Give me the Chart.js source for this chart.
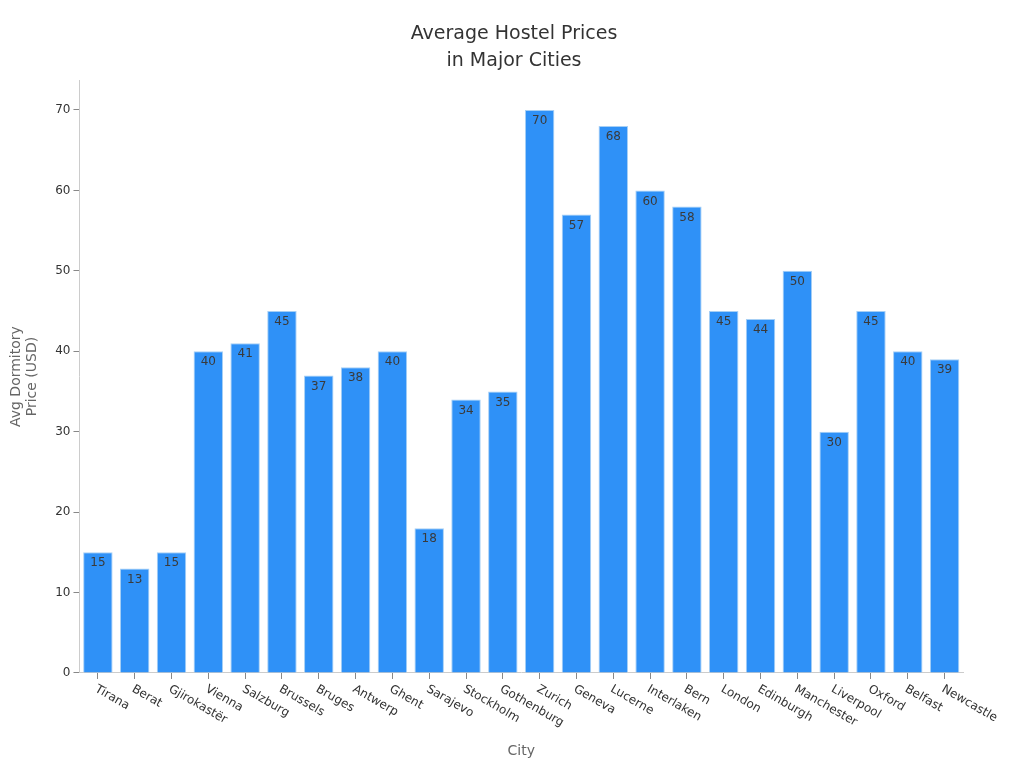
<!DOCTYPE html>
<html>
<head>
<meta charset="utf-8">
<script src="https://cdn.jsdelivr.net/npm/chart.js@4/dist/chart.umd.min.js"></script>
<style>
  html, body { margin: 0; padding: 0; background: #fff; }
  #wrap { width: 1024px; height: 768px; }
</style>
</head>
<body>
<div id="wrap"><canvas id="chart"></canvas></div>
<script>
const cities = ['Tirana', 'Berat', 'Gjirokastër', 'Vienna', 'Salzburg', 'Brussels', 'Bruges', 'Antwerp', 'Ghent',
  'Sarajevo', 'Stockholm', 'Gothenburg', 'Zurich', 'Geneva', 'Lucerne', 'Interlaken', 'Bern', 'London',
  'Edinburgh', 'Manchester', 'Liverpool', 'Oxford', 'Belfast', 'Newcastle'];
const prices = [15, 13, 15, 40, 41, 45, 37, 38, 40, 18, 34, 35, 70, 57, 68, 60, 58, 45, 44, 50, 30, 45, 40, 39];
const yTicks = [0, 10, 20, 30, 40, 50, 60, 70];

const FONT = '"DejaVu Sans", sans-serif';

// rotated city names, hanging down-right from each tick
const cityLabels = {
  id: 'cityLabels',
  afterDraw(chart) {
    const x = chart.scales.x, ctx = chart.ctx;
    ctx.save();
    ctx.font = '12px ' + FONT;
    ctx.fillStyle = '#333';
    ctx.textAlign = 'left';
    ctx.textBaseline = 'top';
    cities.forEach((c, i) => {
      ctx.save();
      ctx.translate(x.getPixelForTick(i) + 1, x.top + 10);
      ctx.rotate(Math.PI / 6);
      ctx.fillText(c, 0, 0);
      ctx.restore();
    });
    ctx.restore();
  }
};

// value labels just inside the top of each bar
const valueLabels = {
  id: 'valueLabels',
  afterDatasetsDraw(chart) {
    const ctx = chart.ctx;
    const meta = chart.getDatasetMeta(0);
    ctx.save();
    ctx.font = '12px ' + FONT;
    ctx.fillStyle = '#3a3a3a';
    ctx.textAlign = 'center';
    ctx.textBaseline = 'top';
    meta.data.forEach((bar, i) => {
      ctx.fillText(String(prices[i]), bar.x, bar.y + 5);
    });
    ctx.restore();
  }
};

new Chart(document.getElementById('chart'), {
  type: 'bar',
  data: {
    labels: cities,
    datasets: [{
      data: prices,
      backgroundColor: '#2f91f7',
      borderColor: '#a6cff5',
      borderWidth: 1,
      barPercentage: 0.8,
      categoryPercentage: 1.0
    }]
  },
  options: {
    responsive: true,
    maintainAspectRatio: false,
    animation: false,
    layout: { padding: { top: 10, right: 0, left: 4, bottom: 4 } },
    plugins: {
      legend: { display: false },
      tooltip: { enabled: false },
      title: {
        display: true,
        text: ['Average Hostel Prices', 'in Major Cities'],
        color: '#333',
        font: { family: FONT, size: 19, weight: 'normal', lineHeight: 1.4 },
        padding: { top: 11, bottom: 6 }
      }
    },
    scales: {
      x: {
        grid: { offset: false, drawOnChartArea: false, drawTicks: true, tickLength: 6, color: '#888' },
        border: { display: true, color: '#ccc' },
        ticks: {
          color: 'transparent',
          minRotation: 30,
          maxRotation: 30,
          autoSkip: false,
          font: { family: FONT, size: 12 }
        },
        title: {
          display: true,
          text: 'City',
          color: '#666',
          font: { family: FONT, size: 14 },
          padding: { top: 10 }
        }
      },
      y: {
        min: 0,
        max: 73.7,
        grid: { drawOnChartArea: false, drawTicks: true, tickLength: 6, color: '#888' },
        border: { display: true, color: '#ccc' },
        afterBuildTicks(scale) {
          scale.ticks = yTicks.map(v => ({ value: v }));
        },
        ticks: {
          color: '#333',
          padding: 3,
          font: { family: FONT, size: 12 }
        },
        title: {
          display: true,
          text: ['Avg Dormitory', 'Price (USD)'],
          color: '#666',
          font: { family: FONT, size: 14, lineHeight: 1.15 },
          padding: { bottom: 12 }
        }
      },
      // empty right-hand axis, only reserves room for the last rotated labels
      yRight: {
        type: 'linear',
        position: 'right',
        display: true,
        grid: { display: false },
        border: { display: false },
        ticks: { display: false },
        afterFit(scale) { scale.width = 61; }
      }
    }
  },
  plugins: [cityLabels, valueLabels]
});
</script>
</body>
</html>
